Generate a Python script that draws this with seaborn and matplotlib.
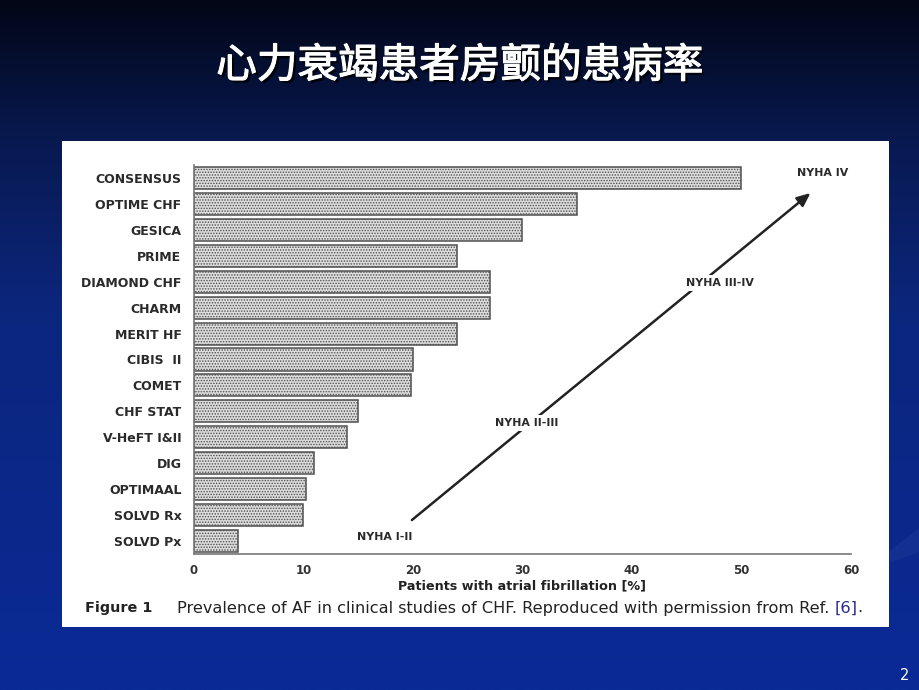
import numpy as np
import pandas as pd
import matplotlib
matplotlib.use("Agg")
import matplotlib.pyplot as plt
import matplotlib.patheffects as pe
from matplotlib.patches import Rectangle, Polygon
import seaborn as sns

# ---- data ----
studies = ["CONSENSUS", "OPTIME CHF", "GESICA", "PRIME", "DIAMOND CHF", "CHARM",
           "MERIT HF", "CIBIS  II", "COMET", "CHF STAT", "V-HeFT I&II", "DIG",
           "OPTIMAAL", "SOLVD Rx", "SOLVD Px"]
af_percent = [50, 35, 30, 24, 27, 27, 24, 20, 19.8, 15, 14, 11, 10.2, 10, 4]
x_ticks = [0, 10, 20, 30, 40, 50, 60]
nyha_labels = ["NYHA I-II", "NYHA II-III", "NYHA III-IV", "NYHA IV"]
title = "心力衰竭患者房颤的患病率"
x_label = "Patients with atrial fibrillation [%]"
caption_bold = "Figure 1"
caption_text = "Prevalence of AF in clinical studies of CHF. Reproduced with permission from Ref. "
caption_ref = "[6]"
page_number = "2"

df = pd.DataFrame({"study": studies, "af": af_percent})

sns.set_style("white")
plt.rcParams["font.family"] = ["DejaVu Sans"]
plt.rcParams["hatch.linewidth"] = 0.7

fig = plt.figure(figsize=(9.2, 6.9), dpi=100)


def fit(txt, target_px):
    fig.canvas.draw()
    w = txt.get_window_extent().width
    txt.set_fontsize(txt.get_fontsize() * target_px / w)
    return txt.get_fontsize()


# ---- slide background gradient ----
bg = fig.add_axes([0, 0, 1, 1], zorder=-10)
stops_y = np.array([0.0, 0.2, 0.45, 1.0])
stops_c = np.array([[2, 6, 22], [8, 25, 80], [12, 38, 125], [10, 42, 150]]) / 255.0
yy = np.linspace(0, 1, 400)
grad = np.stack([np.interp(yy, stops_y, stops_c[:, i]) for i in range(3)], axis=-1)
img = np.repeat(grad[:, None, :], 10, axis=1)
bg.imshow(img, aspect="auto", extent=[0, 1, 1, 0])
bg.set_xlim(0, 1)
bg.set_ylim(1, 0)
bg.axis("off")
bg.add_patch(Polygon([[0.965, 0.80], [1.0, 0.765], [1.0, 0.80], [0.968, 0.815]],
                     closed=True, facecolor=(0.08, 0.2, 0.58), edgecolor="none", alpha=0.8))

# white panel
fig.patches.append(Rectangle((62 / 920, 1 - 627 / 690), (889 - 62) / 920, (627 - 141) / 690,
                             transform=fig.transFigure, facecolor="white",
                             edgecolor="none", zorder=-5))

# title
tt = fig.text(0.5, 1 - 66 / 690, title, color="white", fontsize=28, ha="center", va="center",
              family=["Noto Sans CJK SC", "DejaVu Sans"], fontweight="normal",
              path_effects=[pe.withSimplePatchShadow(offset=(2, -2), shadow_rgbFace="black", alpha=0.8),
                            pe.Stroke(linewidth=0.8, foreground="white"), pe.Normal()])
fit(tt, 705 - 218)

# ---- chart ----
ax = fig.add_axes([194 / 920, 1 - 554 / 690, (851 - 194) / 920, (554 - 165) / 690])
ax.patch.set_alpha(0)
sns.barplot(data=df, x="af", y="study", orient="h", ax=ax, width=0.85,
            color="#dcdcdc", edgecolor="#505050", linewidth=1.1, hatch="......",
            saturation=1)
ax.set_xlim(0, 60)
ax.set_ylim(14.5, -0.5)
ax.set_xticks(x_ticks)
ax.set_xticklabels([str(t) for t in x_ticks], fontsize=8.5, fontweight="bold", color="#333333")
ax.set_yticks(range(len(studies)))
ax.set_yticklabels(studies, fontsize=8, fontweight="bold", color="#2a2a2a")
xl = ax.set_xlabel(x_label, fontsize=9, fontweight="bold", color="#222222", labelpad=2)
ax.set_ylabel("")
for s in ["top", "right"]:
    ax.spines[s].set_visible(False)
for s in ["left", "bottom"]:
    ax.spines[s].set_color("#777777")
    ax.spines[s].set_linewidth(1.2)
ax.tick_params(axis="x", length=3, width=1, color="#777777", pad=4)
ax.tick_params(axis="y", length=0, pad=9)
ax.set_yticks(np.arange(0.5, 14.5, 1), minor=True)
ax.tick_params(axis="y", which="minor", length=3, width=1, color="#777777")

# fit y tick label size to the reference width of "CONSENSUS"
ylabs = ax.get_yticklabels()
size_y = fit(ylabs[0], 86)
for lab in ylabs:
    lab.set_fontsize(size_y)
fit(xl, 244)

# NYHA arrow
ax.annotate("", xy=(56.3, 0.58), xytext=(19.9, 13.19), xycoords="data",
            arrowprops=dict(arrowstyle="-|>,head_length=0.8,head_width=0.35",
                            color="#222222", lw=1.8, shrinkA=0, shrinkB=0), zorder=3)
label_pos = [(17.4, 13.85), (30.4, 9.45), (48.0, 4.05), (57.4, -0.2)]
nyha_txt = []
for lab, (lx, ly) in zip(nyha_labels, label_pos):
    nyha_txt.append(ax.text(lx, ly, lab, fontsize=7.5, fontweight="bold", color="#2a2a2a",
                            ha="center", va="center", zorder=4, clip_on=False,
                            bbox=dict(facecolor="white", edgecolor="none", pad=2)))
size_n = fit(nyha_txt[2], 68)
for t_ in nyha_txt:
    t_.set_fontsize(size_n)

# caption
cap_family = ["DejaVu Sans"]
cy = 1 - 608 / 690
fb = fig.text(85 / 920, cy, caption_bold, fontsize=10, fontweight="bold",
              color="#222222", va="center", ha="left", family=cap_family)
fit(fb, 67)
t = fig.text(177 / 920, cy, caption_text, fontsize=10, color="#222222",
             va="center", ha="left", family=cap_family)
fit(t, 835 - 177)
fig.canvas.draw()
bb = t.get_window_extent()
t2 = fig.text(bb.x1 / fig.bbox.width, cy, caption_ref, fontsize=t.get_fontsize(), color="#2b2b8c",
              va="center", ha="left", family=cap_family)
fig.canvas.draw()
bb2 = t2.get_window_extent()
fig.text(bb2.x1 / fig.bbox.width, cy, ".", fontsize=t.get_fontsize(), color="#222222",
         va="center", ha="left", family=cap_family)

# page number
fig.text(905 / 920, 1 - 676 / 690, page_number, color="white", fontsize=10.5,
         ha="center", va="center")

fig.savefig("out.png", dpi=100)
